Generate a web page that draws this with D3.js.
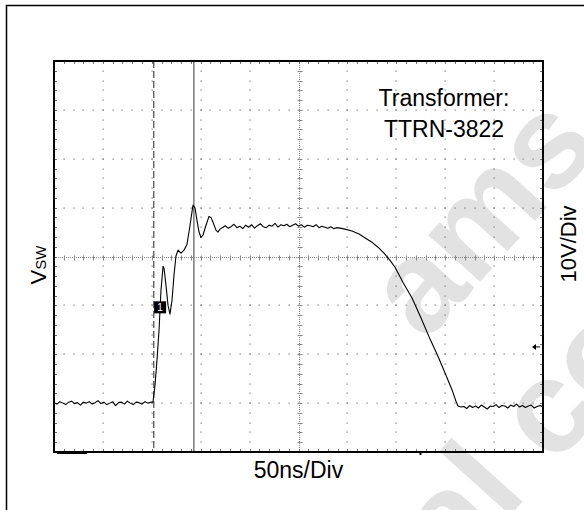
<!DOCTYPE html>
<html>
<head>
<meta charset="utf-8">
<script src="https://cdnjs.cloudflare.com/ajax/libs/d3/7.8.5/d3.min.js"></script>
<style>
  body { margin: 0; background: #fff; }
  svg { display: block; font-family: Arial, 'Liberation Sans', sans-serif; }
</style>
</head>
<body>
<script>
var width = 584,
    height = 510;

var plot = { left: 54, top: 61, right: 543, bottom: 452 };

// scope trace, time in ns (50ns/Div), voltage in V (10V/Div)
var baseTime = [0, 3, 6, 9, 12, 15, 18, 21, 24, 27, 30, 33, 36, 39, 42, 45, 48, 51,
  54, 57, 60, 63, 66, 69, 72, 75, 78, 81, 84, 87, 90, 93, 96, 99];
var baseVolt = [0.1, -0.2, 0.3, 0.0, -0.3, 0.2, 0.4, -0.1, 0.1, -0.4, 0.2, 0.0, 0.3, -0.2,
  0.1, 0.5, -0.1, 0.2, -0.3, 0.0, 0.3, -0.5, 0.1, 0.2, -0.2, 0.4, 0.0, -0.3, 0.2, 0.1,
  -0.2, 0.3, 0.0, 0.2];

var riseTime = [101.2, 103.3, 105.3, 107.4, 109.4, 111.5, 112.5, 114.5, 116.6, 118.6,
  120.7, 122.7, 124.7, 126.8, 129.9, 132.9, 136.0, 139.1, 142.1, 144.2, 146.2, 148.3,
  150.3, 152.4, 155.4, 158.5, 160.5, 162.6, 165.6, 167.7, 169.7, 172.8];
var riseVolt = [0.2, 3.7, 8.8, 14.9, 23.1, 28.0, 27.6, 24.1, 20.0, 18.2,
  21.1, 26.2, 30.1, 31.3, 30.7, 31.3, 32.5, 36.4, 40.5, 39.9, 37.4, 35.0,
  33.9, 34.4, 36.4, 38.2, 38.0, 37.0, 35.4, 35.0, 35.6, 36.0];

var flatTime = [175, 178, 181, 184, 187, 190, 193, 196, 199, 202, 205, 208, 211, 214,
  217, 220, 223, 226, 229, 232, 235, 238, 241, 244, 247, 250, 253, 256, 259, 262, 265,
  268, 271, 274, 277, 280, 283, 286, 289];
var flatVolt = [36.3, 35.8, 36.1, 36.6, 35.9, 36.2, 35.7, 36.4, 36.0, 36.5, 35.8, 36.3,
  36.7, 36.1, 35.9, 36.4, 36.2, 36.8, 36.0, 36.5, 36.3, 36.6, 36.1, 36.4, 36.7, 36.2,
  36.5, 36.0, 36.4, 36.3, 36.1, 36.5, 35.9, 36.2, 36.0, 35.8, 36.1, 35.7, 35.9];

var fallTime = [292.4, 297.5, 304.7, 311.9, 319.0, 325.2, 331.3, 337.4, 343.6, 348.7,
  356.9, 366.1, 375.3, 384.5, 392.6, 400.8, 407.0, 411.0, 413.1, 416.2];
var fallVolt = [35.8, 35.6, 35.2, 34.6, 33.7, 32.9, 31.9, 30.7, 29.2, 27.8,
  24.7, 21.5, 17.4, 13.1, 9.6, 5.7, 2.7, 0.4, -0.6, -0.8];

var tailTime = [419, 422, 425, 428, 431, 434, 437, 440, 443, 446, 449, 452, 455, 458,
  461, 464, 467, 470, 473, 476, 479, 482, 485, 488, 491, 494, 497, 500];
var tailVolt = [-0.7, -1.1, -0.5, -0.9, -0.6, -1.0, -0.4, -0.8, -1.2, -0.6, -0.7, -0.3,
  -0.9, -0.5, -0.6, -1.0, -0.4, -0.7, -0.2, -0.8, -0.5, -0.9, -0.6, -0.4, -1.0, -0.7,
  -0.5, -0.8];

var cursorDashed = 102,
    cursorSolid = 143,
    triggerLevel = 11.5,
    chMarker = [108.5, 19.6];

var infoLines = ['Transformer:', 'TTRN-3822'];
var xLabel = '50ns/Div',
    yLabel = 'V',
    ySub = 'SW',
    scaleLabel = '10V/Div';
var watermark = ['ams', 'Technical content still valid'];

var trace = [];
[[baseTime, baseVolt], [riseTime, riseVolt], [flatTime, flatVolt],
 [fallTime, fallVolt], [tailTime, tailVolt]].forEach(function(s) {
  s[0].forEach(function(t, i) { trace.push([t, s[1][i]]); });
});

var svg = d3.select('body')
      .append('svg')
      .attr('width', width)
      .attr('height', height);

var xScale = d3.scaleLinear()
  .domain([0, 500])
  .range([plot.left, plot.right]);

var yScale = d3.scaleLinear()
  .domain([-10, 70])
  .range([plot.bottom, plot.top]);

// watermark
var wm = svg.append('g')
  .style('fill', '#e2e2e2')
  .style('font-weight', 'bold')
  .style('font-size', '132px');
wm.append('text')
  .attr('transform', 'translate(425,343) rotate(-48)')
  .text(watermark[0]);
wm.append('text')
  .attr('transform', 'translate(128,940) rotate(-48)')
  .text(watermark[1]);

// outer frame
svg.append('path')
  .attr('d', 'M6.5,' + height + 'V5.5H' + width)
  .style('fill', 'none')
  .style('stroke', '#000')
  .style('stroke-width', 1.5);

// grid dots
var majorX = d3.range(50, 500, 50).filter(function(d) { return d !== 250; });
var majorY = d3.range(0, 70, 10).filter(function(d) { return d !== 30; });
var minorX = d3.range(10, 500, 10);
var minorY = d3.range(-8, 70, 2);

var dots = [];
majorX.forEach(function(t) { minorY.forEach(function(v) { dots.push([t, v]); }); });
majorY.forEach(function(v) { minorX.forEach(function(t) { dots.push([t, v]); }); });

svg.append('g')
  .selectAll('rect')
  .data(dots)
  .enter()
  .append('rect')
  .attr('x', function(d) { return Math.round(xScale(d[0])) - 0.5; })
  .attr('y', function(d) { return Math.round(yScale(d[1])) - 0.5; })
  .attr('width', 1.2)
  .attr('height', 1.2)
  .style('fill', '#777');

// centre lines with fine ticks
var cx = Math.round(xScale(250)) + 0.5,
    cy = Math.round(yScale(30)) + 0.5;
var center = svg.append('g').style('stroke', '#888').style('stroke-width', 1);
center.append('line')
  .attr('x1', plot.left).attr('x2', plot.right).attr('y1', cy).attr('y2', cy)
  .style('stroke-dasharray', '1,1');
center.append('line')
  .attr('x1', cx).attr('x2', cx).attr('y1', plot.top).attr('y2', plot.bottom)
  .style('stroke-dasharray', '1,1');
center.selectAll('.tx')
  .data(minorX)
  .enter()
  .append('line')
  .attr('x1', function(d) { return Math.round(xScale(d)) + 0.5; })
  .attr('x2', function(d) { return Math.round(xScale(d)) + 0.5; })
  .attr('y1', cy - 2).attr('y2', cy + 3);
center.selectAll('.ty')
  .data(minorY)
  .enter()
  .append('line')
  .attr('y1', function(d) { return Math.round(yScale(d)) + 0.5; })
  .attr('y2', function(d) { return Math.round(yScale(d)) + 0.5; })
  .attr('x1', cx - 2).attr('x2', cx + 3);

// border ticks
var bt = svg.append('g').style('stroke', '#777').style('stroke-width', 1);
minorX.forEach(function(t) {
  var px = Math.round(xScale(t)) + 0.5;
  bt.append('line').attr('x1', px).attr('x2', px).attr('y1', plot.top).attr('y2', plot.top + 3);
  bt.append('line').attr('x1', px).attr('x2', px).attr('y1', plot.bottom).attr('y2', plot.bottom - 3);
});
minorY.forEach(function(v) {
  var py = Math.round(yScale(v)) + 0.5;
  bt.append('line').attr('y1', py).attr('y2', py).attr('x1', plot.left).attr('x2', plot.left + 3);
  bt.append('line').attr('y1', py).attr('y2', py).attr('x1', plot.right).attr('x2', plot.right - 3);
});

// cursors
svg.append('line')
  .attr('x1', xScale(cursorDashed)).attr('x2', xScale(cursorDashed))
  .attr('y1', plot.top).attr('y2', plot.bottom)
  .style('stroke', '#555')
  .style('stroke-width', 1.3)
  .style('stroke-dasharray', '7,3');
svg.append('line')
  .attr('x1', xScale(cursorSolid)).attr('x2', xScale(cursorSolid))
  .attr('y1', plot.top).attr('y2', plot.bottom)
  .style('stroke', '#777')
  .style('stroke-width', 1.5);

// trace
var line = d3.line()
  .x(function(d) { return xScale(d[0]); })
  .y(function(d) { return yScale(d[1]); });

svg.append('path')
  .datum(trace)
  .attr('d', line)
  .style('fill', 'none')
  .style('stroke', '#000')
  .style('stroke-width', 1.1)
  .style('stroke-linejoin', 'round');

// channel marker
svg.append('rect')
  .attr('x', xScale(chMarker[0]) - 6)
  .attr('y', yScale(chMarker[1]) - 6)
  .attr('width', 12)
  .attr('height', 12)
  .style('fill', '#000');
svg.append('text')
  .attr('x', xScale(chMarker[0]))
  .attr('y', yScale(chMarker[1]) + 4)
  .attr('text-anchor', 'middle')
  .style('font-size', '10px')
  .style('fill', '#fff')
  .text('1');

// trigger level arrow
var ty = yScale(triggerLevel);
svg.append('path')
  .attr('d', 'M532,' + ty + 'l4,-3v6z')
  .style('fill', '#000');
svg.append('line')
  .attr('x1', 535).attr('x2', 540).attr('y1', ty).attr('y2', ty)
  .style('stroke', '#000');

// plot border
svg.append('rect')
  .attr('x', plot.left)
  .attr('y', plot.top)
  .attr('width', plot.right - plot.left)
  .attr('height', plot.bottom - plot.top)
  .style('fill', 'none')
  .style('stroke', '#000')
  .style('stroke-width', 2);

// small marks under the bottom edge
svg.append('line')
  .attr('x1', 57).attr('x2', 87).attr('y1', plot.bottom + 1.5).attr('y2', plot.bottom + 1.5)
  .style('stroke', '#000');
svg.append('line')
  .attr('x1', 420.5).attr('x2', 420.5).attr('y1', plot.bottom).attr('y2', plot.bottom + 3)
  .style('stroke', '#000')
  .style('stroke-width', 2);

// texts
svg.selectAll('.info')
  .data(infoLines)
  .enter()
  .append('text')
  .attr('x', 444)
  .attr('y', function(d, i) { return 106 + i * 31; })
  .attr('text-anchor', 'middle')
  .style('font-size', '23px')
  .text(function(d) { return d; });

svg.append('text')
  .attr('x', (plot.left + plot.right) / 2)
  .attr('y', 478)
  .attr('text-anchor', 'middle')
  .style('font-size', '23px')
  .text(xLabel);

svg.append('text')
  .attr('transform', 'translate(576,244) rotate(-90)')
  .attr('text-anchor', 'middle')
  .style('font-size', '22px')
  .text(scaleLabel);

var yl = svg.append('text')
  .attr('transform', 'translate(46,265) rotate(-90)')
  .attr('text-anchor', 'middle')
  .style('font-size', '22px');
yl.append('tspan').text(yLabel);
yl.append('tspan').style('font-size', '15px').text(ySub);
</script>
</body>
</html>
